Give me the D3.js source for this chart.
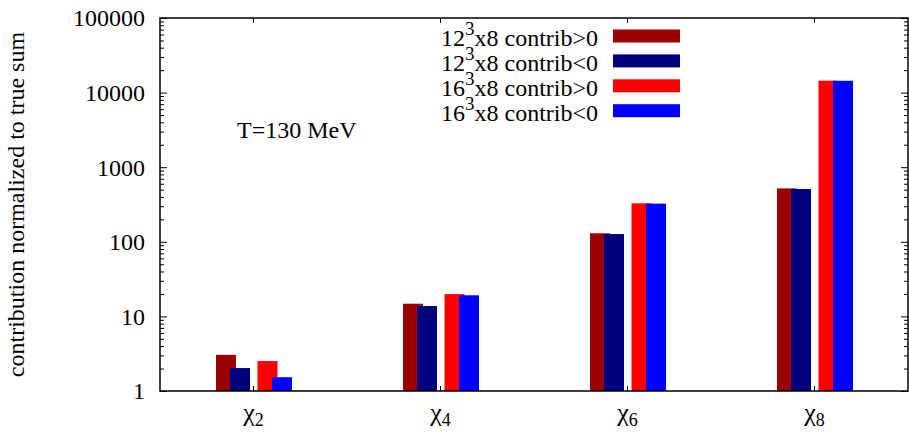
<!DOCTYPE html>
<html>
<head>
<meta charset="utf-8">
<script src="https://cdn.jsdelivr.net/npm/d3@7"></script>
<style>
  body { margin: 0; background: #fff; }
  .axis line { stroke: #000; stroke-width: 1; }
</style>
</head>
<body>
<svg id="chart" width="909" height="432"></svg>
<script>
// data
var categories = ["2", "4", "6", "8"];            // chi_n subscripts
var seriesBase = ["12", "12", "16", "16"];        // lattice size before ^3
var seriesSign = [">0", "<0", ">0", "<0"];
var pos12 = [3.05, 14.8, 130, 520];
var neg12 = [2.03, 13.8, 127, 510];
var pos16 = [2.52, 19.9, 328, 14450];
var neg16 = [1.53, 19.2, 325, 14400];
var yTicks = [1, 10, 100, 1000, 10000, 100000];
var annotation = "T=130 MeV";

var series = [pos12, neg12, pos16, neg16];
var colors = ["#9b0000", "#00007f", "#ff0000", "#0000ff"];
var barOffset = [-37.5, -23.5, 4, 18.5];
var barWidth = 20;
var FONT = "'Liberation Serif', 'DejaVu Serif', serif";

InitChart();

function InitChart() {
  var viz = d3.select("#chart").attr("font-family", FONT),
    MARGINS = { top: 18, right: 908, bottom: 391, left: 160 },
    xRange = d3.scaleBand().range([MARGINS.left, MARGINS.right]).padding(0).domain(categories),
    yRange = d3.scaleLog().range([MARGINS.bottom, MARGINS.top]).domain([1, 100000]);

  var minor = [];
  yTicks.slice(0, -1).forEach(function(t) {
    for (var k = 2; k <= 9; k++) minor.push(t * k);
  });

  // bars, in series order so later pairs overlap earlier ones
  series.forEach(function(vals, s) {
    viz.append("g").selectAll("rect")
      .data(vals)
      .enter()
      .append("rect")
      .attr("x", function(d, i) { return xRange(categories[i]) + xRange.bandwidth() / 2 + barOffset[s]; })
      .attr("y", function(d) { return yRange(d); })
      .attr("width", barWidth)
      .attr("height", function(d) { return yRange(1) - yRange(d); })
      .attr("fill", colors[s]);
  });

  // left axis with labels, ticks pointing inward
  var yAxis = viz.append("g")
    .attr("class", "axis")
    .attr("transform", "translate(" + MARGINS.left + ",0)")
    .call(d3.axisLeft(yRange).tickValues(yTicks).tickFormat(d3.format("d")).tickSize(-7).tickPadding(15));
  yAxis.select(".domain").remove();
  yAxis.attr("font-family", FONT).attr("font-size", 24);
  yAxis.selectAll("text").attr("dy", "0.33em").attr("fill", "#000");

  viz.append("g").attr("class", "axis")
    .attr("transform", "translate(" + MARGINS.left + ",0)")
    .call(d3.axisLeft(yRange).tickValues(minor).tickFormat("").tickSize(-4))
    .select(".domain").remove();

  // mirrored right axis
  viz.append("g").attr("class", "axis")
    .attr("transform", "translate(" + MARGINS.right + ",0)")
    .call(d3.axisRight(yRange).tickValues(yTicks).tickFormat("").tickSize(-7))
    .select(".domain").remove();
  viz.append("g").attr("class", "axis")
    .attr("transform", "translate(" + MARGINS.right + ",0)")
    .call(d3.axisRight(yRange).tickValues(minor).tickFormat("").tickSize(-4))
    .select(".domain").remove();

  // bottom axis with chi labels
  var xAxis = viz.append("g")
    .attr("class", "axis")
    .attr("transform", "translate(0," + MARGINS.bottom + ")")
    .call(d3.axisBottom(xRange).tickSize(-5).tickFormat(""));
  xAxis.select(".domain").remove();
  xAxis.attr("font-family", FONT).attr("font-size", 26);
  xAxis.selectAll(".tick").append("text")
    .attr("y", 30)
    .attr("text-anchor", "middle")
    .attr("fill", "#000")
    .each(function(d) {
      var t = d3.select(this);
      t.append("tspan").text("\u03c7");
      t.append("tspan").attr("dy", 5).attr("font-size", 18).text(d);
    });

  viz.append("g").attr("class", "axis")
    .attr("transform", "translate(0," + MARGINS.top + ")")
    .call(d3.axisTop(xRange).tickSize(-5).tickFormat(""))
    .select(".domain").remove();

  // frame
  viz.append("rect")
    .attr("x", MARGINS.left)
    .attr("y", MARGINS.top)
    .attr("width", MARGINS.right - MARGINS.left)
    .attr("height", MARGINS.bottom - MARGINS.top)
    .attr("fill", "none")
    .attr("stroke", "#000")
    .attr("stroke-width", 1.5);

  // y label
  viz.append("text")
    .attr("transform", "translate(24," + ((MARGINS.top + MARGINS.bottom) / 2) + ") rotate(-90)")
    .attr("text-anchor", "middle")
    .attr("font-size", 24)
    .text("contribution normalized to true sum");

  viz.append("text")
    .attr("x", 237)
    .attr("y", 138)
    .attr("font-size", 24)
    .text(annotation);

  // legend
  var legend = viz.append("g").selectAll("g")
    .data(series)
    .enter()
    .append("g")
    .attr("transform", function(d, i) { return "translate(0," + (36 + i * 24.9) + ")"; });

  legend.append("rect")
    .attr("x", 613)
    .attr("y", -6.5)
    .attr("width", 67)
    .attr("height", 13)
    .attr("fill", function(d, i) { return colors[i]; });

  legend.append("text")
    .attr("x", 598)
    .attr("y", 10)
    .attr("text-anchor", "end")
    .attr("font-size", 24)
    .each(function(d, i) {
      var t = d3.select(this);
      t.append("tspan").text(seriesBase[i]);
      t.append("tspan").attr("dy", -11).attr("font-size", 19).text("3");
      t.append("tspan").attr("dy", 11).text("x8 contrib" + seriesSign[i]);
    });
}
</script>
</body>
</html>
